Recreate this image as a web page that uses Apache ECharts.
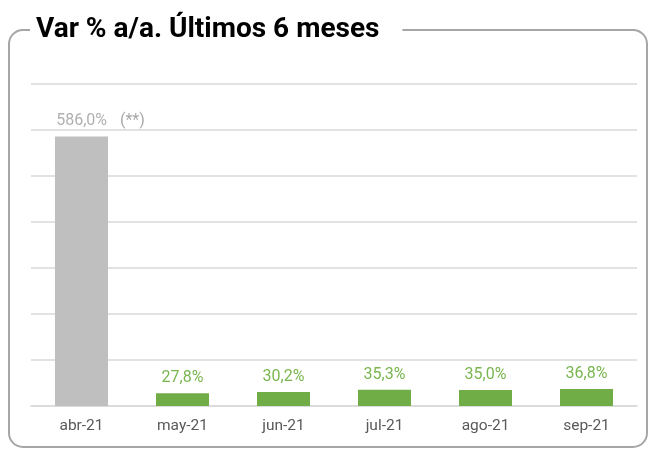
<!DOCTYPE html>
<html><head><meta charset="utf-8">
<script src="https://cdn.jsdelivr.net/npm/echarts@6/dist/echarts.min.js"></script>
<style>html,body{margin:0;padding:0;background:#fff}#c{width:648px;height:450px}</style>
</head><body><div id="c"></div>
<script>
var categories = ['abr-21','may-21','jun-21','jul-21','ago-21','sep-21'];
var values = [586.0, 27.8, 30.2, 35.3, 35.0, 36.8];
var labelTexts = ['586,0%','27,8%','30,2%','35,3%','35,0%','36,8%'];
var noteText = '(**)';
var titleText = 'Var % a/a. Últimos 6 meses';

var chart = echarts.init(document.getElementById('c'), null, {renderer:'canvas'});
var data = values.map(function(v, i){
  if (i === 0) {
    return {value: v, itemStyle:{color:'#BFBFBF'},
      label:{formatter: '{p|}{v|' + labelTexts[i] + '}{s|' + noteText + '}', color:'#b0b0b0'}};
  }
  return {value: v, itemStyle:{color:'#70AD47'}, label:{formatter: labelTexts[i], color:'#7ab650'}};
});
chart.setOption({
  animation:false,
  title:{text:titleText, left:30, top:16, padding:[0,23,0,6], backgroundColor:'#fff',
    textStyle:{fontFamily:'Roboto', fontWeight:'bold', fontSize:28, color:'#000'}},
  graphic:[{type:'rect', z:-10, shape:{x:9, y:30, width:638, height:417, r:14},
    style:{fill:'none', stroke:'#a6a6a6', lineWidth:2}}],
  grid:{left:31, right:11, top:84, bottom:44},
  xAxis:{type:'category', data:categories,
    axisLine:{lineStyle:{color:'#d9d9d9', width:1.5}}, axisTick:{show:false},
    axisLabel:{color:'#595959', fontSize:15.5, fontFamily:'Roboto', margin:12}},
  yAxis:{type:'value', min:0, max:700, interval:100, axisLabel:{show:false},
    axisLine:{show:false}, axisTick:{show:false},
    splitLine:{lineStyle:{color:'#d9d9d9', width:1.5}}},
  series:[{type:'bar', data:data, barWidth:53,
    label:{show:true, position:'top', distance:7, fontSize:16, fontFamily:'Roboto',
      rich:{p:{width:38, fontSize:16, fontFamily:'Roboto'},
            v:{fontSize:16, fontFamily:'Roboto', color:'#b0b0b0'},
            s:{fontSize:16, fontFamily:'Roboto', color:'#a8a8a8', padding:[0,0,0,13]}}}}]
});
</script></body></html>
